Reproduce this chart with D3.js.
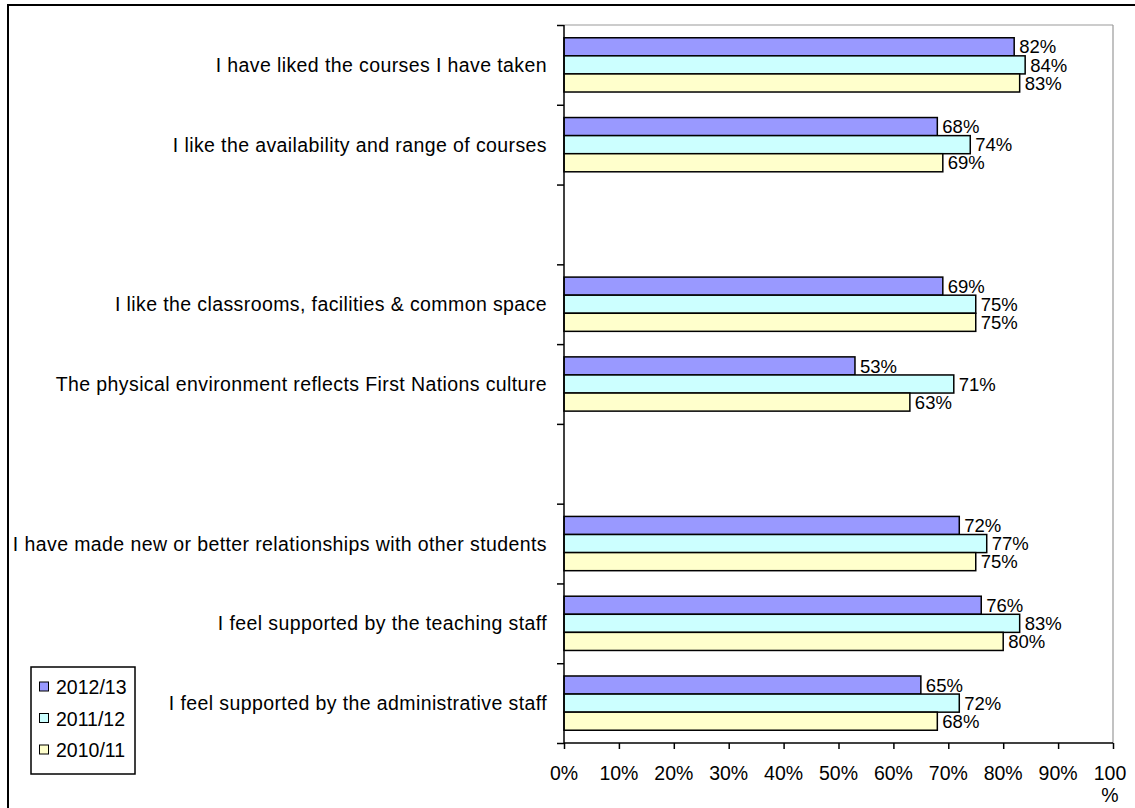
<!DOCTYPE html>
<html>
<head>
<meta charset="utf-8">
<script src="https://cdn.jsdelivr.net/npm/d3@7"></script>
<style>
  html, body { margin: 0; padding: 0; background: #fff; }
  svg { display: block; font-family: Arial, "Liberation Sans", sans-serif; }
</style>
</head>
<body>
<svg id="chart" width="1135" height="808"></svg>
<script>
// ---- data ----
const categories = [
  "I have liked the courses I have taken",
  "I like the availability and range of courses",
  "",
  "I like the classrooms, facilities & common space",
  "The physical environment reflects First Nations culture",
  "",
  "I have made new or better relationships with other students",
  "I feel supported by the teaching staff",
  "I feel supported by the administrative staff"
];
const seriesNames = ["2012/13", "2011/12", "2010/11"];
const values2012 = [82, 68, null, 69, 53, null, 72, 76, 65];
const values2011 = [84, 74, null, 75, 71, null, 77, 83, 72];
const values2010 = [83, 69, null, 75, 63, null, 75, 80, 68];
const xTicks = [0, 10, 20, 30, 40, 50, 60, 70, 80, 90, 100];
const seriesColors = ["#9999FF", "#CCFFFF", "#FFFFCC"];

const seriesValues = [values2012, values2011, values2010];
const FS = 19.5;
const FSV = 18.5;

// ---- layout ----
const svg = d3.select("#chart");
const plot = { left: 564, right: 1113, top: 25, bottom: 743 };

// outer border
svg.append("rect")
  .attr("x", 8).attr("y", 5).attr("width", 1140).attr("height", 830)
  .attr("fill", "none").attr("stroke", "#000").attr("stroke-width", 2);

const x = d3.scaleLinear().domain([0, 100]).range([plot.left, plot.right]);
const y = d3.scaleBand().domain(d3.range(categories.length)).range([plot.top, plot.bottom]).paddingInner(0).paddingOuter(0);
const barBand = y.bandwidth() * 0.68;
const yInner = d3.scaleBand().domain(d3.range(seriesNames.length))
  .range([(y.bandwidth() - barBand) / 2, (y.bandwidth() + barBand) / 2]);

// plot frame (top and right gray)
svg.append("line").attr("x1", plot.left).attr("x2", plot.right).attr("y1", plot.top).attr("y2", plot.top)
  .attr("stroke", "#999").attr("stroke-width", 1.2);
svg.append("line").attr("x1", plot.right).attr("x2", plot.right).attr("y1", plot.top).attr("y2", plot.bottom)
  .attr("stroke", "#999").attr("stroke-width", 1.2);

// bars + value labels
seriesNames.forEach((s, si) => {
  const data = categories.map((c, i) => ({ i, v: seriesValues[si][i] })).filter(d => d.v != null);
  svg.append("g").selectAll("rect")
    .data(data)
    .join("rect")
    .attr("x", x(0))
    .attr("y", d => y(d.i) + yInner(si))
    .attr("width", d => x(d.v) - x(0))
    .attr("height", yInner.bandwidth())
    .attr("fill", seriesColors[si])
    .attr("stroke", "#000")
    .attr("stroke-width", 1.5);
  svg.append("g").selectAll("text")
    .data(data)
    .join("text")
    .attr("x", d => x(d.v) + 5)
    .attr("y", d => y(d.i) + yInner(si) + yInner.bandwidth() / 2)
    .attr("dy", "0.36em")
    .attr("font-size", FSV)
    .attr("fill", "#000")
    .text(d => d.v + "%");
});

// y axis
const yAxisScale = d3.scaleLinear().domain([0, categories.length]).range([plot.top, plot.bottom]);
const yAxis = d3.axisLeft(yAxisScale).tickValues(d3.range(categories.length + 1)).tickSize(7).tickFormat("");
const gy = svg.append("g").attr("transform", `translate(${plot.left},0)`).call(yAxis);
gy.selectAll("line, path").attr("stroke", "#000").attr("stroke-width", 1.5);
gy.select(".domain").attr("d", `M0,${plot.top}V${plot.bottom}`);

// category labels
svg.append("g").selectAll("text")
  .data(categories.map((c, i) => ({ c, i })).filter(d => d.c))
  .join("text")
  .attr("x", 547)
  .attr("y", d => y(d.i) + y.bandwidth() / 2)
  .attr("dy", "0.36em")
  .attr("text-anchor", "end")
  .attr("font-size", FS)
  .attr("letter-spacing", 0.4)
  .attr("fill", "#000")
  .text(d => d.c);

// x axis
const xAxis = d3.axisBottom(x).tickValues(xTicks).tickSize(6).tickFormat(() => "");
const gx = svg.append("g").attr("transform", `translate(0,${plot.bottom})`).call(xAxis);
gx.selectAll("line, path").attr("stroke", "#000").attr("stroke-width", 1.5);
gx.select(".domain").attr("d", `M${plot.left},0H${plot.right}`);

svg.append("g").selectAll("text")
  .data(xTicks)
  .join("text")
  .attr("x", d => x(d))
  .attr("y", 780)
  .attr("text-anchor", "middle")
  .attr("font-size", FS)
  .attr("fill", "#000")
  .each(function (d) {
    const t = d3.select(this);
    if (d === 100) {
      t.append("tspan").attr("x", x(d) - 3).text("100");
      t.append("tspan").attr("x", x(d) - 3).attr("dy", 22).text("%");
    } else {
      t.text(d + "%");
    }
  });

// legend
const legend = svg.append("g");
legend.append("rect")
  .attr("x", 31).attr("y", 667).attr("width", 104).attr("height", 107)
  .attr("fill", "#fff").attr("stroke", "#000").attr("stroke-width", 1.5);
const legY = d3.scalePoint().domain(seriesNames).range([687, 750]);
seriesNames.forEach((s, si) => {
  legend.append("rect")
    .attr("x", 39.5).attr("y", legY(s) - 5).attr("width", 9).attr("height", 9)
    .attr("fill", seriesColors[si]).attr("stroke", "#000").attr("stroke-width", 1);
  legend.append("text")
    .attr("x", 56).attr("y", legY(s)).attr("dy", "0.36em")
    .attr("font-size", FS).attr("fill", "#000")
    .text(s);
});
</script>
</body>
</html>
